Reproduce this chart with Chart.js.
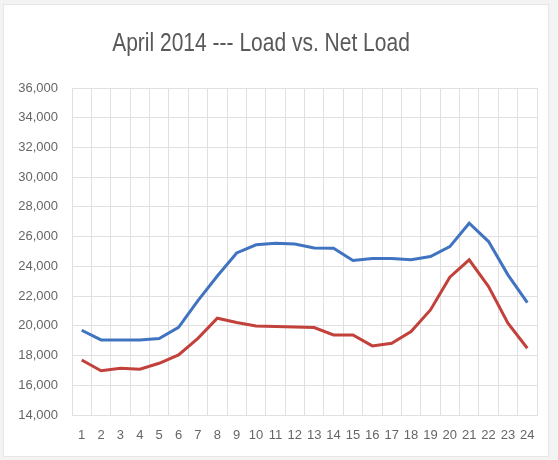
<!DOCTYPE html>
<html>
<head>
<meta charset="utf-8">
<script src="https://cdn.jsdelivr.net/npm/chart.js@4.4.0/dist/chart.umd.min.js"></script>
<style>
  html, body { margin: 0; padding: 0; background: #f3f3f3; }
  #wrap { position: absolute; left: 0; top: 0; width: 558px; height: 460px; }
  #frame { position: absolute; left: 3px; top: 4px; width: 544px; height: 451px; background: #ffffff; border: 1px solid #e6e6e6; }
  canvas { position: absolute; left: 0; top: 0; }
</style>
</head>
<body>
<div id="wrap">
  <div id="frame"></div>
  <canvas id="c" width="558" height="460"></canvas>
</div>
<script>
const titleText = "April 2014 --- Load vs. Net Load";
const hours = ["1","2","3","4","5","6","7","8","9","10","11","12","13","14","15","16","17","18","19","20","21","22","23","24"];
const loadValues = [19700, 19050, 19050, 19050, 19150, 19900, 21700, 23350, 24900, 25450, 25560, 25500, 25230, 25220, 24390, 24530, 24530, 24440, 24660, 25330, 26900, 25670, 23430, 21560];
const netLoadValues = [17700, 16980, 17140, 17080, 17480, 18040, 19160, 20510, 20220, 19990, 19950, 19920, 19880, 19390, 19390, 18650, 18830, 19610, 21070, 23270, 24440, 22640, 20170, 18490];
const yMin = 14000, yMax = 36000, yStep = 2000;

const FONT = "'Liberation Sans', Arial, sans-serif";

const titlePlugin = {
  id: 'customTitle',
  afterDraw(chart) {
    const ctx = chart.ctx;
    ctx.save();
    ctx.font = "25px " + FONT;
    ctx.fillStyle = "#595959";
    ctx.textAlign = "center";
    ctx.textBaseline = "alphabetic";
    ctx.translate(261, 51);
    ctx.scale(0.84, 1);
    ctx.fillText(titleText, 0, 0);
    ctx.restore();
  }
};

new Chart(document.getElementById('c'), {
  type: 'line',
  data: {
    labels: hours,
    datasets: [
      { label: 'Load', data: loadValues, borderColor: '#4174c0', borderWidth: 3, pointRadius: 0, tension: 0, fill: false },
      { label: 'Net Load', data: netLoadValues, borderColor: '#c2413b', borderWidth: 3, pointRadius: 0, tension: 0, fill: false }
    ]
  },
  options: {
    responsive: false,
    devicePixelRatio: 1,
    animation: false,
    layout: { padding: { left: 0, right: 21, top: 88, bottom: 0 } },
    plugins: {
      legend: { display: false },
      title: { display: false },
      tooltip: { enabled: false }
    },
    scales: {
      x: {
        type: 'category',
        offset: true,
        grid: { offset: true, color: '#e0e0e0', lineWidth: 1, drawTicks: false },
        border: { color: '#e0e0e0' },
        ticks: { color: '#666666', font: { size: 13, family: FONT }, padding: 13, maxRotation: 0, autoSkip: false },
        afterFit(scale) { scale.height = 45; }
      },
      y: {
        min: yMin, max: yMax,
        grid: { color: '#e0e0e0', lineWidth: 1, drawTicks: false },
        border: { color: '#e0e0e0' },
        ticks: {
          stepSize: yStep,
          color: '#666666',
          font: { size: 13, family: FONT },
          padding: 14,
          callback: (v) => v.toLocaleString('en-US')
        },
        afterFit(scale) { scale.width = 72; }
      }
    }
  },
  plugins: [titlePlugin]
});
</script>
</body>
</html>
